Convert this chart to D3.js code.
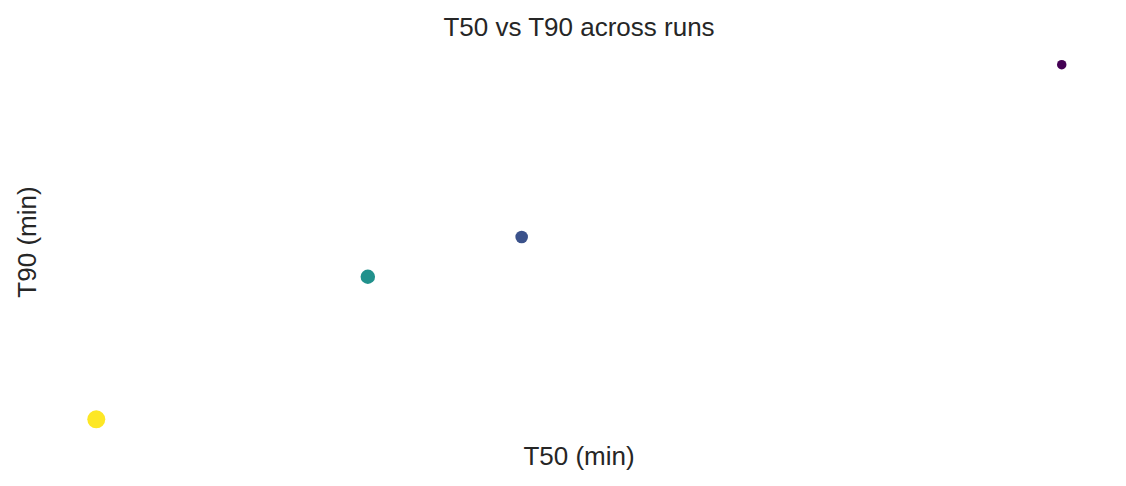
<!DOCTYPE html>
<html>
<head>
<meta charset="utf-8">
<script src="https://cdn.jsdelivr.net/npm/d3@7"></script>
<style>
  body { margin: 0; background: #fff; }
  text { font-family: Arial, "Liberation Sans", sans-serif; fill: #262626; }
</style>
</head>
<body>
<div id="chart"></div>
<script>
// T50 vs T90 scatter, one point per run
var width = 1126
var height = 486
var margin = {top: 47, right: 16, bottom: 49, left: 48}

var runs = ["run1", "run2", "run3", "run4"]
var t50 = [44.0, 26.1, 21.0, 12.0]
var t90 = [80.0, 55.7, 50.1, 30.0]
var run_index = [0, 1, 2, 4]
var sample_size = [25, 44, 58, 90]

var svg = d3.select("#chart")
        .append("svg")
        .attr("width", width)
        .attr("height", height)

var innerW = width - margin.left - margin.right
var innerH = height - margin.top - margin.bottom

// matplotlib style 5% padding around the data
function padded(vals) {
    var ext = d3.extent(vals)
    var pad = (ext[1] - ext[0]) * 0.05
    return [ext[0] - pad, ext[1] + pad]
}

var x = d3.scaleLinear()
        .domain(padded(t50))
        .range([margin.left, margin.left + innerW])

var y = d3.scaleLinear()
        .domain(padded(t90))
        .range([margin.top + innerH, margin.top])

var color = d3.scaleSequential(d3.interpolateViridis)
        .domain([0, 4])

var r = d3.scaleSqrt()
        .domain([0, 90])
        .range([0, 9])

var data = runs.map(function(d, i) {
    return {name: d, t50: t50[i], t90: t90[i], c: run_index[i], s: sample_size[i]}
})

svg.selectAll(".dot")
    .data(data)
    .enter()
    .append("circle")
    .attr("class", "dot")
    .attr("cx", function(d) { return x(d.t50) })
    .attr("cy", function(d) { return y(d.t90) })
    .attr("r", function(d) { return r(d.s) })
    .attr("fill", function(d) { return color(d.c) })

svg.append("text")
    .attr("x", margin.left + innerW / 2)
    .attr("y", 36)
    .attr("text-anchor", "middle")
    .style("font-size", "26px")
    .text("T50 vs T90 across runs")

svg.append("text")
    .attr("x", margin.left + innerW / 2)
    .attr("y", 465)
    .attr("text-anchor", "middle")
    .style("font-size", "26px")
    .text("T50 (min)")

svg.append("text")
    .attr("transform", "translate(36," + (margin.top + innerH / 2) + ") rotate(-90)")
    .attr("text-anchor", "middle")
    .style("font-size", "26px")
    .text("T90 (min)")
</script>
</body>
</html>
